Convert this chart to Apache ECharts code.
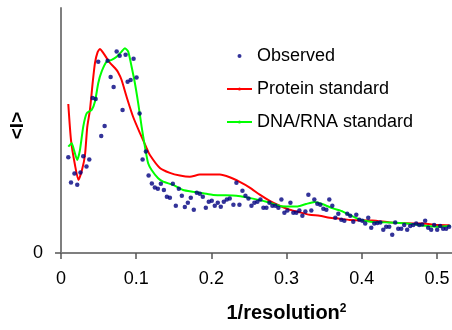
<!DOCTYPE html>
<html>
<head>
<meta charset="utf-8">
<script src="https://cdn.jsdelivr.net/npm/echarts@6/dist/echarts.min.js"></script>
<style>
  html, body { margin: 0; padding: 0; background: #fff; }
  #chart { width: 452px; height: 330px; }
</style>
</head>
<body>
<div id="chart"></div>
<script>
// observed intensities
const obsX = [0.0097, 0.0133, 0.0179, 0.0216, 0.0259, 0.0296, 0.0339, 0.0376, 0.0421, 0.0461,
  0.0495, 0.0535, 0.0580, 0.0620, 0.0660, 0.0700, 0.0740, 0.0780, 0.0819, 0.0859,
  0.0886, 0.0926, 0.0965, 0.1005, 0.1045, 0.1085, 0.1129, 0.1165, 0.1208, 0.1248,
  0.1288, 0.1328, 0.1368, 0.1408, 0.1448, 0.1487, 0.1527, 0.1567, 0.1607, 0.1647,
  0.1687, 0.1726, 0.1766, 0.1806, 0.1846, 0.1886, 0.1926, 0.1965, 0.2005, 0.2045,
  0.2085, 0.2125, 0.2165, 0.2205, 0.2244, 0.2293, 0.2333, 0.2373, 0.2413, 0.2453,
  0.2493, 0.2533, 0.2572, 0.2612, 0.2652, 0.2692, 0.2732, 0.2772, 0.2811, 0.2851,
  0.2891, 0.2931, 0.2971, 0.3011, 0.3051, 0.3090, 0.3130, 0.3170, 0.3210, 0.3250,
  0.3290, 0.3329, 0.3369, 0.3409, 0.3449, 0.3489, 0.3529, 0.3568, 0.3608, 0.3648,
  0.3688, 0.3728, 0.3768, 0.3807, 0.3847, 0.3887, 0.3927, 0.3967, 0.4007, 0.4046,
  0.4086, 0.4126, 0.4166, 0.4206, 0.4246, 0.4286, 0.4325, 0.4365, 0.4405, 0.4445,
  0.4485, 0.4525, 0.4564, 0.4604, 0.4644, 0.4684, 0.4724, 0.4764, 0.4803, 0.4843,
  0.4883, 0.4923, 0.4963, 0.5003, 0.5042, 0.5082, 0.5122, 0.5162];
const obsY = [3.91, 2.88, 3.24, 2.79, 3.29, 3.95, 3.53, 3.82, 6.33, 6.29,
  7.81, 4.78, 5.18, 7.85, 7.18, 6.78, 8.22, 8.05, 5.84, 8.09,
  6.99, 7.06, 7.93, 7.16, 5.69, 3.82, 4.14, 3.16, 2.84, 2.67,
  2.62, 2.83, 2.57, 2.30, 2.26, 2.83, 1.93, 2.62, 2.34, 1.88,
  2.05, 2.26, 1.77, 2.46, 2.42, 2.30, 1.85, 2.09, 2.13, 1.93,
  2.05, 1.89, 2.09, 2.18, 2.22, 1.97, 2.87, 1.97, 2.54, 2.34,
  2.22, 1.93, 2.05, 2.09, 2.18, 1.85, 1.85, 2.05, 1.93, 1.93,
  1.85, 2.18, 1.64, 1.73, 2.05, 1.64, 1.64, 1.73, 1.52, 1.69,
  2.38, 1.73, 2.18, 2.01, 1.97, 1.81, 1.77, 2.18, 1.93, 1.44,
  1.60, 1.36, 1.32, 1.60, 1.52, 1.28, 1.56, 1.36, 1.32, 1.20,
  1.44, 1.03, 1.20, 1.22, 1.24, 0.95, 1.07, 1.07, 0.75, 1.24,
  0.99, 0.99, 1.14, 0.95, 1.10, 1.14, 1.20, 1.14, 1.16, 1.32,
  1.03, 0.95, 1.14, 0.95, 1.10, 0.99, 0.99, 1.07];

// protein standard curve
const proteinX = [0.0097, 0.0133, 0.0186, 0.0232, 0.0279, 0.0319, 0.0349, 0.0385, 0.0421, 0.0452,
  0.0487, 0.0518, 0.0554, 0.0607, 0.0651, 0.0717, 0.0757, 0.0806, 0.0873, 0.0960,
  0.1049, 0.1138, 0.1182, 0.1315, 0.1448, 0.1581, 0.1714, 0.1846, 0.1979, 0.2112,
  0.2244, 0.2377, 0.2510, 0.2643, 0.2776, 0.2908, 0.3041, 0.3174, 0.3307, 0.3440,
  0.3572, 0.3705, 0.3838, 0.4143, 0.4369, 0.4591, 0.4807, 0.5033, 0.5166];
const proteinY = [6.08, 4.61, 3.59, 2.98, 3.39, 4.00, 5.14, 5.84, 6.94, 7.76,
  8.20, 8.33, 8.20, 7.96, 7.76, 7.55, 7.39, 7.06, 6.37, 5.55,
  4.90, 4.29, 4.00, 3.47, 3.27, 3.16, 3.11, 3.20, 3.20, 3.20,
  3.09, 2.90, 2.67, 2.38, 2.13, 1.93, 1.77, 1.66, 1.56, 1.52,
  1.44, 1.40, 1.35, 1.33, 1.25, 1.21, 1.20, 1.14, 1.13];

// DNA/RNA standard curve
const dnaX = [0.0097, 0.0142, 0.0173, 0.0216, 0.0252, 0.0296, 0.0341, 0.0408, 0.0452, 0.0495,
  0.0540, 0.0607, 0.0673, 0.0740, 0.0806, 0.0850, 0.0894, 0.0939, 0.0983, 0.1027,
  0.1072, 0.1116, 0.1159, 0.1205, 0.1292, 0.1359, 0.1491, 0.1624, 0.1757, 0.1890,
  0.2023, 0.2155, 0.2333, 0.2466, 0.2732, 0.2908, 0.3041, 0.3147, 0.3260, 0.3373,
  0.3483, 0.3616, 0.3749, 0.3838, 0.3971, 0.4143, 0.4316, 0.4582, 0.4847, 0.5024,
  0.5179];
const dnaY = [4.34, 4.48, 4.20, 3.80, 4.20, 5.16, 5.70, 5.84, 6.18, 6.93,
  7.40, 7.81, 7.88, 8.01, 8.22, 8.36, 8.22, 7.60, 6.93, 6.11,
  5.16, 4.34, 3.66, 3.39, 3.05, 2.91, 2.78, 2.57, 2.50, 2.44,
  2.37, 2.36, 2.34, 2.27, 2.09, 1.92, 1.90, 1.90, 2.00, 2.08,
  1.99, 1.82, 1.69, 1.55, 1.37, 1.27, 1.25, 1.21, 1.11, 1.07,
  1.11];

const xTicks = [0, 0.1, 0.2, 0.3, 0.4, 0.5];
const yTicks = [0];

const zip = (xs, ys) => xs.map((x, i) => [x, ys[i]]);

const chart = echarts.init(document.getElementById('chart'));
chart.setOption({
  animation: false,
  textStyle: { fontFamily: 'Liberation Sans, Arial, sans-serif' },
  grid: { left: 61, right: 0, top: 8, bottom: 77, outerBoundsMode: 'none', containLabel: false },
  legend: {
    orient: 'vertical',
    left: 226,
    top: 47,
    padding: 0,
    itemGap: 15,
    itemWidth: 25,
    itemHeight: 4,
    itemTextGap: 5,
    textStyle: { fontSize: 18, color: '#000' },
    data: ['Observed', 'Protein standard', 'DNA/RNA standard']
  },
  xAxis: {
    type: 'value',
    min: 0,
    max: 0.52,
    name: '{a|1/resolution}{b|2}',
    nameLocation: 'middle',
    nameGap: 50,
    nameMoveOverlap: false,
    nameTextStyle: {
      padding: [0, 0, 0, 60],
      rich: {
        a: { fontSize: 20, fontWeight: 'bold', color: '#000' },
        b: { fontSize: 12, fontWeight: 'bold', color: '#000', verticalAlign: 'top' }
      }
    },
    axisLine: { lineStyle: { color: '#7f7f7f', width: 2 } },
    axisTick: { customValues: xTicks, length: 6, lineStyle: { color: '#555', width: 1.5 } },
    axisLabel: { customValues: xTicks, fontSize: 18, color: '#000', margin: 17 },
    splitLine: { show: false }
  },
  yAxis: {
    type: 'value',
    min: 0,
    max: 10,
    name: '<I>',
    nameLocation: 'middle',
    nameGap: 34,
    nameMoveOverlap: false,
    nameTextStyle: { fontSize: 19, fontWeight: 'bold', color: '#000', padding: [0, 0, 0, 10] },
    axisLine: { show: true, lineStyle: { color: '#7f7f7f', width: 2 } },
    axisTick: { show: true, customValues: yTicks, length: 6, lineStyle: { color: '#555', width: 1.5 } },
    axisLabel: { customValues: yTicks, fontSize: 18, color: '#000', margin: 18 },
    splitLine: { show: false }
  },
  series: [
    {
      name: 'Observed',
      type: 'scatter',
      data: zip(obsX, obsY),
      symbolSize: 4.5,
      itemStyle: { color: '#000080' },
      z: 3
    },
    {
      name: 'Protein standard',
      type: 'line',
      data: zip(proteinX, proteinY),
      symbol: 'none',
      smooth: 0.2,
      lineStyle: { color: '#ff0000', width: 2 },
      itemStyle: { color: '#ff0000' },
      z: 2
    },
    {
      name: 'DNA/RNA standard',
      type: 'line',
      data: zip(dnaX, dnaY),
      symbol: 'none',
      smooth: 0.2,
      lineStyle: { color: '#00ff00', width: 2 },
      itemStyle: { color: '#00ff00' },
      z: 2
    }
  ]
});
</script>
</body>
</html>
